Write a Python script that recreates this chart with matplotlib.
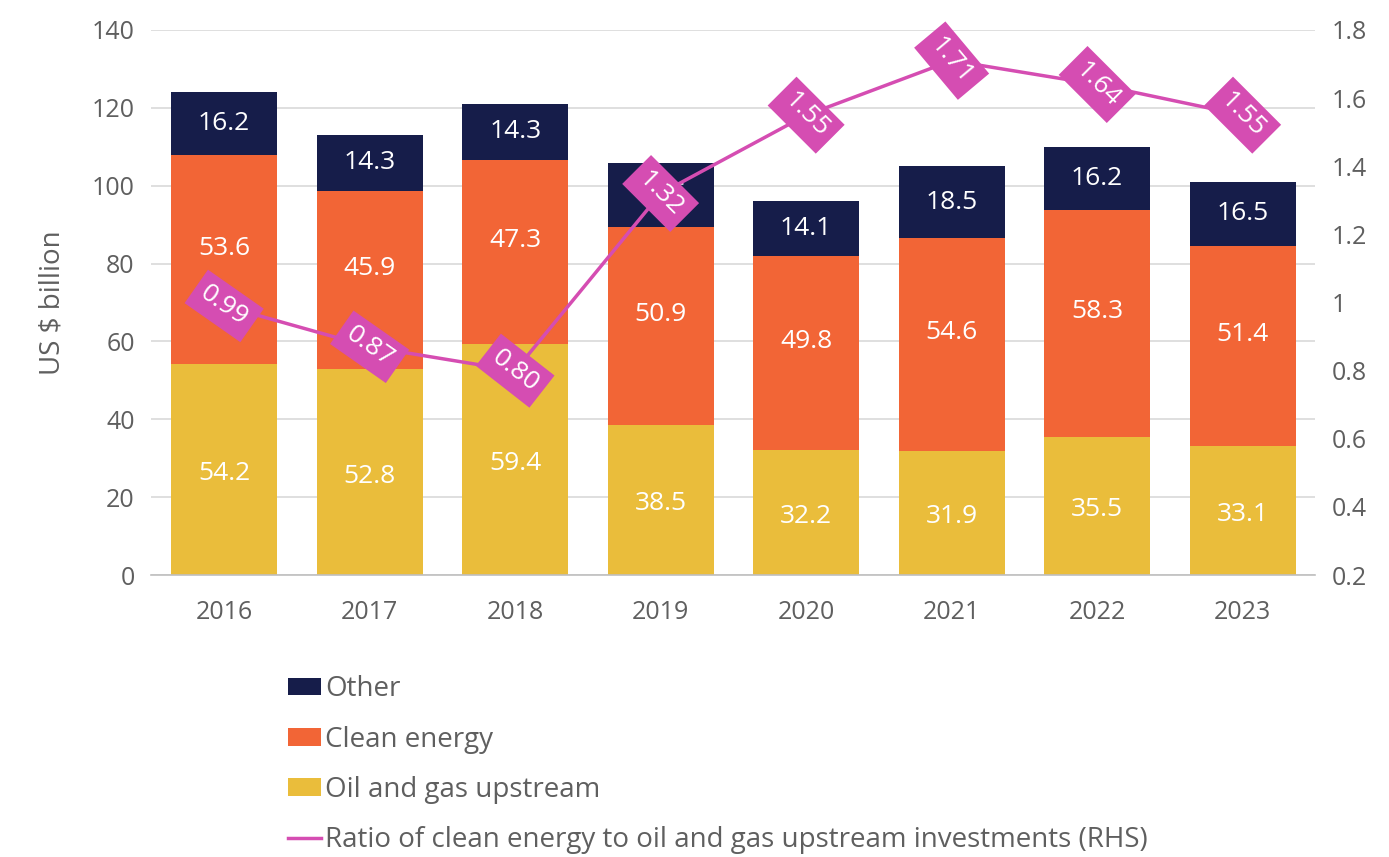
import matplotlib
matplotlib.use("Agg")
import matplotlib.pyplot as plt
import numpy as np
from matplotlib.ticker import FuncFormatter

years = ["2016", "2017", "2018", "2019", "2020", "2021", "2022", "2023"]
oil_gas = [54.2, 52.8, 59.4, 38.5, 32.2, 31.9, 35.5, 33.1]
clean = [53.6, 45.9, 47.3, 50.9, 49.8, 54.6, 58.3, 51.4]
other = [16.2, 14.3, 14.3, 16.5, 14.1, 18.5, 16.2, 16.5]
ratio = [0.99, 0.87, 0.80, 1.32, 1.55, 1.71, 1.64, 1.55]
ratio_labels = ["0.99", "0.87", "0.80", "1.32", "1.55", "1.71", "1.64", "1.55"]

C_OTHER = "#161d4a"
C_CLEAN = "#f26536"
C_OIL = "#eabd3b"
C_LINE = "#d54db2"
GREY = "#5f5f5f"

plt.rcParams["font.family"] = ["Open Sans", "DejaVu Sans"]
FS_TICK = 18
FS_BAR = 19

fig = plt.figure(figsize=(13.89, 8.57), dpi=100)
ax = fig.add_axes([0.109, 0.329, 0.838, 0.636])
x = np.arange(len(years))
w = 0.73

b1 = ax.bar(x, oil_gas, w, color=C_OIL, zorder=2)
b2 = ax.bar(x, clean, w, bottom=oil_gas, color=C_CLEAN, zorder=2)
bot3 = np.array(oil_gas) + np.array(clean)
b3 = ax.bar(x, other, w, bottom=bot3, color=C_OTHER, zorder=2)

for i in range(len(years)):
    ax.text(x[i], oil_gas[i] / 2 - 1, f"{oil_gas[i]:.1f}", ha="center", va="center",
            color="white", fontsize=FS_BAR, zorder=3)
    ax.text(x[i], oil_gas[i] + clean[i] / 2 + 3, f"{clean[i]:.1f}", ha="center", va="center",
            color="white", fontsize=FS_BAR, zorder=3)
    ax.text(x[i], bot3[i] + other[i] / 2, f"{other[i]:.1f}", ha="center", va="center",
            color="white", fontsize=FS_BAR, zorder=3)

ax.set_ylim(0, 140)
ax.set_xlim(-0.5, len(years) - 0.5)
ax.set_yticks(range(0, 141, 20))
ax.set_xticks(x)
ax.set_xticklabels(years)
ax.yaxis.grid(True, color="#d9d9d9", linewidth=1.2, zorder=0)
ax.set_axisbelow(True)
for s in ["top", "right", "left"]:
    ax.spines[s].set_visible(False)
ax.spines["bottom"].set_color("#bfbfbf")
ax.spines["bottom"].set_linewidth(1.2)
ax.tick_params(axis="both", length=0, labelsize=FS_TICK, labelcolor=GREY, pad=12)
ax.tick_params(axis="x", pad=18)
ax.set_ylabel("US $ billion", fontsize=20, color=GREY, labelpad=18)

ax2 = ax.twinx()
ax2.set_ylim(0.2, 1.8)
ax2.set_yticks(np.arange(0.2, 1.81, 0.2))
ax2.yaxis.set_major_formatter(FuncFormatter(lambda v, p: f"{v:.1f}".rstrip("0").rstrip(".")))
for s in ["top", "right", "left", "bottom"]:
    ax2.spines[s].set_visible(False)
ax2.tick_params(axis="y", length=0, labelsize=FS_TICK, labelcolor=GREY, pad=12)
ln, = ax2.plot(x, ratio, color=C_LINE, linewidth=2.5, zorder=4)
rots = [-35, -35, -38, -45, -45, -50, -45, -45]
for i, (r, lab) in enumerate(zip(ratio, ratio_labels)):
    ax2.text(x[i], r, lab, ha="center", va="center", rotation=rots[i], rotation_mode="anchor",
             color="white", fontsize=FS_BAR, zorder=5,
             bbox=dict(boxstyle="square,pad=0.3", fc=C_LINE, ec="none"))

fig.legend([b3, b2, b1, ln],
           ["Other", "Clean energy", "Oil and gas upstream",
            "Ratio of clean energy to oil and gas upstream investments (RHS)"],
           loc="upper left", bbox_to_anchor=(0.199, 0.225), frameon=False,
           fontsize=20, labelcolor=GREY, handlelength=1.2, handleheight=0.6,
           handletextpad=0.15, labelspacing=0.8, borderaxespad=0)

fig.savefig("out.png", dpi=100)
